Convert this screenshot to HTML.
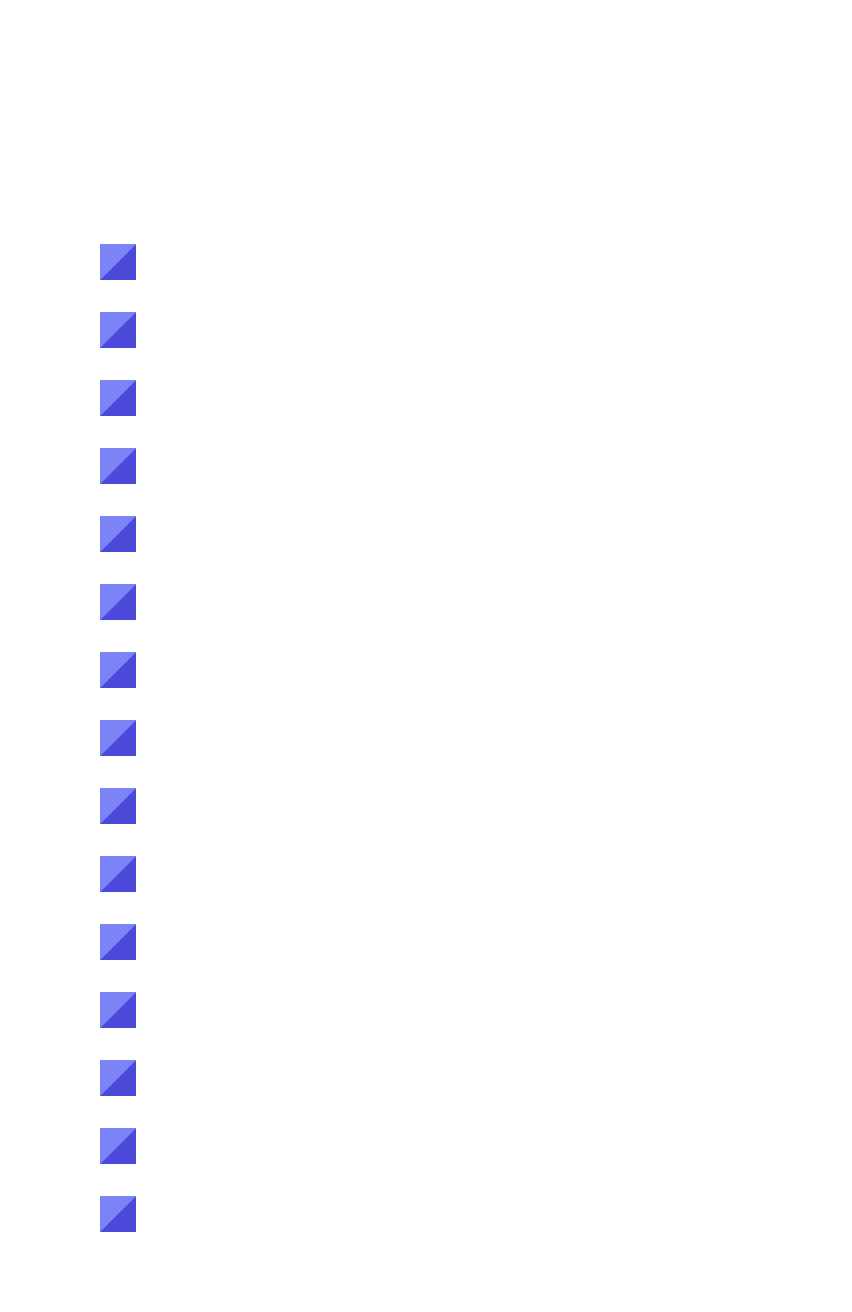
<!DOCTYPE html>
<html><head><style>
html,body{margin:0;padding:0;background:#fff;width:852px;height:1312px;overflow:hidden;position:relative}
.s{position:absolute;left:100px;width:36px;height:36px;background:linear-gradient(to bottom right,#7b84f7 50%,#4d4adb 50%)}
</style></head><body>
<div class="s" style="top:244px"></div>
<div class="s" style="top:312px"></div>
<div class="s" style="top:380px"></div>
<div class="s" style="top:448px"></div>
<div class="s" style="top:516px"></div>
<div class="s" style="top:584px"></div>
<div class="s" style="top:652px"></div>
<div class="s" style="top:720px"></div>
<div class="s" style="top:788px"></div>
<div class="s" style="top:856px"></div>
<div class="s" style="top:924px"></div>
<div class="s" style="top:992px"></div>
<div class="s" style="top:1060px"></div>
<div class="s" style="top:1128px"></div>
<div class="s" style="top:1196px"></div>
</body></html>
